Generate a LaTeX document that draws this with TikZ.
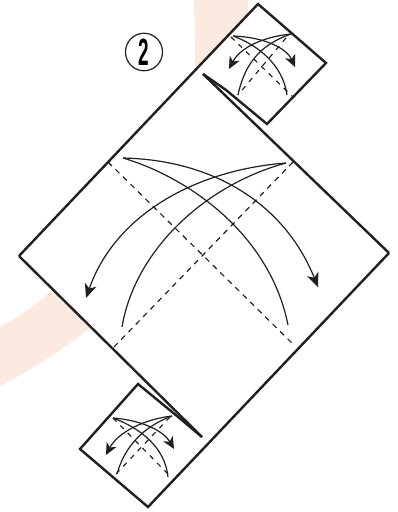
\documentclass[tikz,border=0pt]{standalone}
\usepackage{fontspec}
\setmainfont{Liberation Sans}
\usetikzlibrary{arrows.meta,shapes.geometric}
\definecolor{peach}{HTML}{FCE9E0}
\definecolor{ink}{HTML}{231F20}
\tikzset{
  x=1pt,y=-1pt,
  band/.style={fill=peach,draw=none},
  outline/.style={draw=ink,line width=2.4pt,line join=miter},
  foldline/.style={draw=ink,line width=1.15pt,dash pattern=on 5.5pt off 5pt},
  smallfold/.style={draw=ink,line width=1.15pt,dash pattern=on 5pt off 5.5pt},
  curve/.style={draw=ink,line width=1.2pt},
  bigtip/.style={curve,-{Stealth[length=14pt,width=12pt,inset=4pt]}},
  smalltip/.style={curve,-{Stealth[length=12pt,width=11pt,inset=3.5pt]}},
  stepmark/.style={draw=ink,line width=1.2pt,ellipse,minimum width=37pt,minimum height=35pt,inner sep=0pt}
}
\begin{document}
\begin{tikzpicture}
\useasboundingbox (0,0) rectangle (397,512);
% background band
\fill[band] (194,0) -- (248,0) -- (248,30) -- (194,80) .. controls (196,50) and (194,20) .. (194,0) -- cycle;
\fill[band] (0,327) .. controls (20,316) and (38,304) .. (56,286) -- (100,320) .. controls (70,345) and (35,368) .. (0,386) -- cycle;
% paper outline
\path[fill=white] (19,256) -- (258,4) -- (326,63) -- (267,124) -- (203,74) -- (389,253) -- (148,507) -- (80,449) -- (138,384) -- (202,437) -- cycle;
\draw[outline] (19,256) -- (258,4) -- (326,63) -- (267,124) -- (226,90) -- (203,74);
\draw[outline] (389,253) -- (148,507) -- (80,449) -- (138,384) -- (177,416) -- (202,437);
\draw[outline] (19,256) -- (202,437);
\draw[outline] (203,74) -- (389,253);
% main fold lines
\coordinate (a1) at (108,162); \coordinate (a2) at (295,346);
\coordinate (b1) at (293,162); \coordinate (b2) at (113,348);
\draw[foldline] (a1) -- (a2);
\draw[foldline] (b1) -- (b2);
% main arcs
\coordinate (s1) at (123,158); \coordinate (s2) at (286,163);
\coordinate (e1) at (318,287); \coordinate (e2) at (288,325);
\coordinate (e3) at (86,298);  \coordinate (e4) at (122,327);
\draw[bigtip] (s1) .. controls (215,160) and (285,205) .. (e1);
\draw[curve] (s1) .. controls (190,178) and (270,235) .. (e2);
\draw[bigtip] (s2) .. controls (195,170) and (115,215) .. (e3);
\draw[curve] (s2) .. controls (205,185) and (135,250) .. (e4);
% upper inset
\coordinate (c1) at (231,37); \coordinate (c2) at (292,96);
\coordinate (d1) at (286,38); \coordinate (d2) at (238,95);
\draw[smallfold] (c1) -- (c2);
\draw[smallfold] (d1) -- (d2);
\coordinate (t1) at (233,36); \coordinate (t2) at (291,34);
\coordinate (u1) at (295,67); \coordinate (u2) at (287,95);
\coordinate (u3) at (229,69); \coordinate (u4) at (238,95);
\draw[smalltip] (t1) .. controls (262,37) and (286,47) .. (u1);
\draw[curve] (t1) .. controls (258,45) and (283,65) .. (u2);
\draw[smalltip] (t2) .. controls (262,37) and (240,48) .. (u3);
\draw[curve] (t2) .. controls (262,44) and (245,62) .. (u4);
% lower inset
\coordinate (f1) at (113,418); \coordinate (f2) at (168,474);
\coordinate (g1) at (170,417); \coordinate (g2) at (115,475);
\draw[smallfold] (f1) -- (f2);
\draw[smallfold] (g1) -- (g2);
\coordinate (h1) at (113,418); \coordinate (h2) at (172,416);
\coordinate (k1) at (174,449); \coordinate (k2) at (168,477);
\coordinate (k3) at (106,455); \coordinate (k4) at (117,474);
\draw[smalltip] (h1) .. controls (140,420) and (163,430) .. (k1);
\draw[curve] (h1) .. controls (140,428) and (165,447) .. (k2);
\draw[smalltip] (h2) .. controls (145,419) and (118,432) .. (k3);
\draw[curve] (h2) .. controls (145,426) and (125,445) .. (k4);
% step number
\node[stepmark] (stepnum) at (144,52) {\scalebox{.5}[1]{\fontsize{38}{38}\selectfont\bfseries 2}};
\end{tikzpicture}
\end{document}
